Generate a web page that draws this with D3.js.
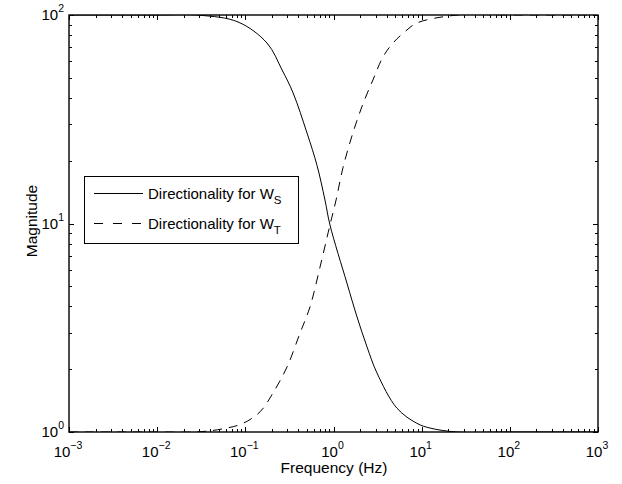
<!DOCTYPE html>
<html>
<head>
<meta charset="utf-8">
<script src="https://cdn.jsdelivr.net/npm/d3@7"></script>
<style>
  html, body { margin: 0; padding: 0; background: #fff; }
  svg { display: block; font-family: "Liberation Sans", Arial, Helvetica, sans-serif; }
</style>
</head>
<body>
<svg id="chart" width="622" height="484"></svg>
<script>
// Directionality magnitude vs frequency (log-log)
const freqS = [0.001, 0.01, 0.0306, 0.0826, 0.176, 0.261, 0.348, 0.50, 0.65, 0.80, 0.912, 1.42, 1.85, 2.40, 3.11, 5.25, 8.85, 12.4, 25, 100, 1000];
const magS  = [100,   100,  99.7,   92.6,   73.4,  54.5,  42.3,  27.2, 19.0, 12.97, 9.84, 5.18, 3.56, 2.56, 1.92, 1.30, 1.10, 1.045, 1.0, 1.0, 1.0];

const freqT = [0.001, 0.01, 0.0306, 0.062, 0.094, 0.147, 0.206, 0.297, 0.417, 0.541, 0.703, 0.912, 1.07, 1.28, 1.66, 2.16, 2.80, 3.64, 4.73, 6.82, 8.85, 23.9, 100, 1000];
const magT  = [1.0,   1.0,  1.003,  1.045, 1.10,  1.25,  1.54,  2.05,  2.98,  3.98,  6.18,  9.84,  12.97, 18.5, 27.2, 37.5, 48.8, 62.9, 73.4, 84.8, 91.6, 99.7, 100, 100];

const seriesNames = ["Directionality for W", "Directionality for W"];
const seriesSubs = ["S", "T"];
const xTickExps = [-3, -2, -1, 0, 1, 2, 3];
const yTickExps = [0, 1, 2];

const svg = d3.select("#chart");
const m = { left: 69, top: 15, right: 598, bottom: 432 };

const x = d3.scaleLog().domain([1e-3, 1e3]).range([m.left, m.right]);
const y = d3.scaleLog().domain([1, 100]).range([m.bottom, m.top]);

const g = svg.append("g");

// minor + major ticks (inside, on all four sides)
const xMinor = [];
for (let e = -3; e < 3; e++) for (let k = 2; k <= 9; k++) xMinor.push(k * Math.pow(10, e));
const yMinor = [];
for (let e = 0; e < 2; e++) for (let k = 2; k <= 9; k++) yMinor.push(k * Math.pow(10, e));
const xMajor = xTickExps.map(e => Math.pow(10, e));
const yMajor = yTickExps.map(e => Math.pow(10, e));

const tickG = g.append("g").attr("stroke", "#000").attr("stroke-width", 1);
function xt(vals, len) {
  vals.forEach(v => {
    const px = Math.round(x(v)) + 0.5;
    tickG.append("line").attr("x1", px).attr("x2", px).attr("y1", m.bottom).attr("y2", m.bottom - len);
    tickG.append("line").attr("x1", px).attr("x2", px).attr("y1", m.top).attr("y2", m.top + len);
  });
}
function yt(vals, len) {
  vals.forEach(v => {
    const py = Math.round(y(v)) + 0.5;
    tickG.append("line").attr("y1", py).attr("y2", py).attr("x1", m.left).attr("x2", m.left + len);
    tickG.append("line").attr("y1", py).attr("y2", py).attr("x1", m.right).attr("x2", m.right - len);
  });
}
xt(xMinor, 3); xt(xMajor, 5);
yt(yMinor, 3); yt(yMajor, 5);

// curves
const line = d3.line().x(d => x(d[0])).y(d => y(d[1])).curve(d3.curveCatmullRom.alpha(0.5));
svg.append("clipPath").attr("id", "plotclip").append("rect")
  .attr("x", m.left).attr("y", m.top).attr("width", m.right - m.left).attr("height", m.bottom - m.top);

const dataS = freqS.map((f, i) => [f, magS[i]]);
const dataT = freqT.map((f, i) => [f, magT[i]]);

g.append("path").datum(dataS).attr("d", line).attr("fill", "none")
  .attr("stroke", "#000").attr("stroke-width", 1).attr("clip-path", "url(#plotclip)");
g.append("path").datum(dataT).attr("d", line).attr("fill", "none")
  .attr("stroke", "#000").attr("stroke-width", 1).attr("stroke-dasharray", "9,7")
  .attr("clip-path", "url(#plotclip)");

// frame
g.append("rect").attr("x", m.left).attr("y", m.top)
  .attr("width", m.right - m.left).attr("height", m.bottom - m.top)
  .attr("fill", "none").attr("stroke", "#000").attr("stroke-width", 1.4);

// tick labels: 10^n
function powLabel(sel, exp) {
  sel.append("tspan").text("10");
  sel.append("tspan").attr("dy", -8).attr("font-size", 10.5).text(String(exp).replace("-", "\u2212"));
}
xTickExps.forEach(e => {
  const t = g.append("text").attr("x", x(Math.pow(10, e)) - 1).attr("y", 457)
    .attr("text-anchor", "middle").attr("font-size", 15).attr("fill", "#000");
  powLabel(t, e);
});
yTickExps.forEach(e => {
  const t = g.append("text").attr("x", m.left - 5).attr("y", y(Math.pow(10, e)) + 5)
    .attr("text-anchor", "end").attr("font-size", 15).attr("fill", "#000");
  powLabel(t, e);
});

// axis titles
g.append("text").attr("x", 334).attr("y", 473)
  .attr("text-anchor", "middle").attr("font-size", 15.5).text("Frequency (Hz)");
g.append("text").attr("transform", "translate(37, 221) rotate(-90)")
  .attr("text-anchor", "middle").attr("font-size", 15.5).text("Magnitude");

// legend
const lg = g.append("g");
lg.append("rect").attr("x", 84.5).attr("y", 176.5).attr("width", 214).attr("height", 67)
  .attr("fill", "#fff").attr("stroke", "#000").attr("stroke-width", 1);
const rows = [193, 223];
const dashes = [null, "9,10"];
rows.forEach((ry, i) => {
  lg.append("line").attr("x1", 94).attr("x2", 143).attr("y1", ry + 0.5).attr("y2", ry + 0.5)
    .attr("stroke", "#000").attr("stroke-width", 1).attr("stroke-dasharray", dashes[i]);
  const t = lg.append("text").attr("x", 148).attr("y", ry + 5.5).attr("font-size", 15);
  t.append("tspan").text(seriesNames[i]);
  t.append("tspan").attr("dy", 5).attr("font-size", 11.5).text(seriesSubs[i]);
});
</script>
</body>
</html>
